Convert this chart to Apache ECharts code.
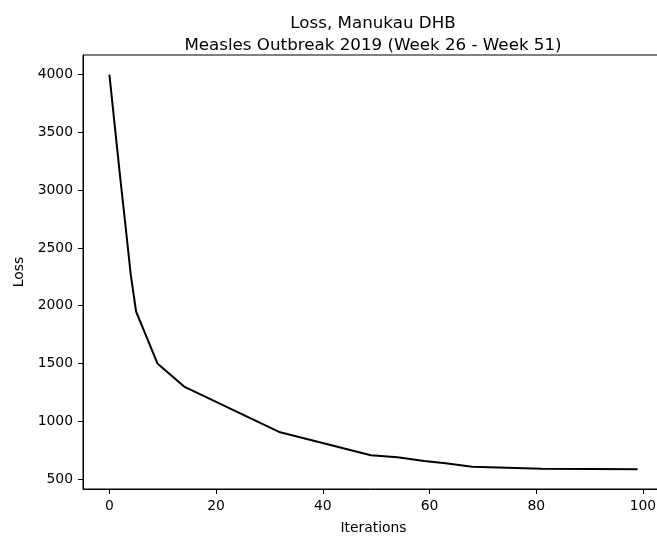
<!DOCTYPE html>
<html>
<head>
<meta charset="utf-8">
<script src="https://cdn.jsdelivr.net/npm/echarts@6/dist/echarts.min.js"></script>
<style>
  html, body { margin: 0; padding: 0; background: #fff; }
  #chart { width: 657px; height: 536px; }
</style>
</head>
<body>
<div id="chart"></div>
<script>
// Training loss over iterations (vertices of the recorded curve)
const iterations = [0, 1, 2, 3, 4, 5, 9, 14, 32, 49, 54, 59, 63, 68, 81, 99];
const lossValues = [4000, 3560, 3120, 2700, 2270, 1950, 1500, 1300, 904, 706, 688, 655, 636, 605, 589, 584];

// Tick labels
const xTicks = [0, 20, 40, 60, 80, 100];
const yTicks = [500, 1000, 1500, 2000, 2500, 3000, 3500, 4000];

const titleLines = ['Loss, Manukau DHB', 'Measles Outbreak 2019 (Week 26 - Week 51)'];

const FONT = 'DejaVu Sans';

// Axis extents padded 5% beyond the data, as a matplotlib autoscale does
const xMin = Math.min(...iterations), xMax = Math.max(...iterations);
const yMin = Math.min(...lossValues), yMax = Math.max(...lossValues);
const xPad = (xMax - xMin) * 0.05, yPad = (yMax - yMin) * 0.05;

const plain = v => String(Math.round(v));

const chart = echarts.init(document.getElementById('chart'), null, { renderer: 'canvas' });

chart.setOption({
  animation: false,
  backgroundColor: '#ffffff',
  title: {
    text: titleLines.join('\n'),
    left: 368,
    top: 8,
    textAlign: 'center',
    textStyle: {
      fontFamily: FONT,
      fontSize: 16.7,
      fontWeight: 'normal',
      color: '#000',
      lineHeight: 22
    }
  },
  grid: {
    left: 83,
    top: 55,
    width: 581,
    height: 434,
    outerBoundsMode: 'none',
    containLabel: false,
    show: true,
    borderColor: '#000',
    borderWidth: 1,
    backgroundColor: 'transparent'
  },
  xAxis: {
    type: 'value',
    min: xMin - xPad,
    max: xMax + xPad,
    name: 'Iterations',
    nameLocation: 'middle',
    nameGap: 32,
    nameTextStyle: { fontFamily: FONT, fontSize: 13.9, color: '#000' },
    splitLine: { show: false },
    axisLine: { show: true, onZero: false, lineStyle: { color: '#000', width: 1 } },
    axisTick: { show: true, length: 5, lineStyle: { color: '#000', width: 1 }, customValues: xTicks },
    axisLabel: { margin: 10, fontFamily: FONT, fontSize: 13.9, color: '#000', customValues: xTicks, formatter: plain }
  },
  yAxis: {
    type: 'value',
    min: yMin - yPad,
    max: yMax + yPad,
    name: 'Loss',
    nameLocation: 'middle',
    nameGap: 54,
    nameTextStyle: { fontFamily: FONT, fontSize: 13.9, color: '#000' },
    splitLine: { show: false },
    axisLine: { show: true, onZero: false, lineStyle: { color: '#000', width: 1 } },
    axisTick: { show: true, length: 5, lineStyle: { color: '#000', width: 1 }, customValues: yTicks },
    axisLabel: { margin: 10, fontFamily: FONT, fontSize: 13.9, color: '#000', customValues: yTicks, formatter: plain }
  },
  series: [{
    type: 'line',
    data: iterations.map((it, i) => [it, lossValues[i]]),
    showSymbol: false,
    lineStyle: { color: '#000', width: 2 },
    itemStyle: { color: '#000' }
  }]
});
</script>
</body>
</html>
